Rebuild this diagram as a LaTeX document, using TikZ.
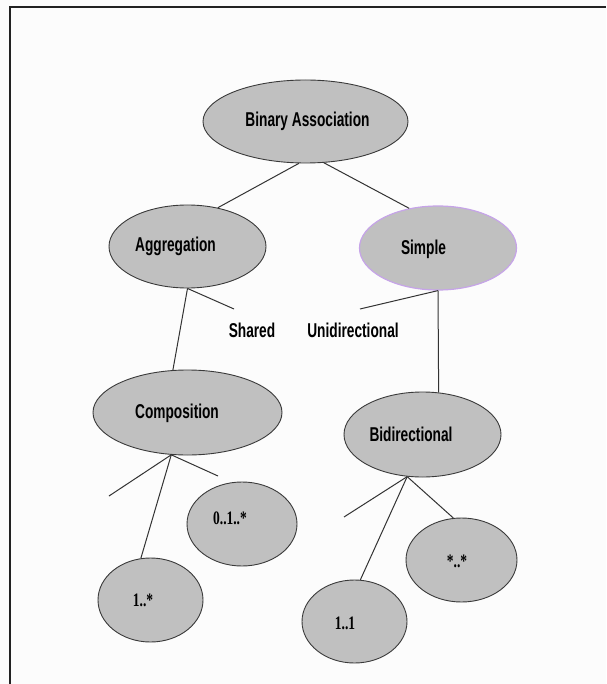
\documentclass[tikz,border=0pt]{standalone}
\usepackage{fontspec}
\usetikzlibrary{shapes.geometric}
\newfontfamily\lblfont{Liberation Sans}[FakeStretch=0.685]
\newfontfamily\numfont{Liberation Serif}[FakeStretch=0.71]
\definecolor{ellfill}{HTML}{C0C0C0}
\definecolor{ellline}{HTML}{3A3A3A}
\definecolor{linkcol}{HTML}{333333}
\definecolor{purpline}{HTML}{C6A4E8}
\definecolor{framecol}{HTML}{222222}
\tikzset{
  ell/.style={ellipse, draw=ellline, fill=ellfill, line width=0.9pt, inner sep=0pt},
  lbl/.style={font=\lblfont\bfseries\fontsize{20}{22}\selectfont, inner sep=0pt},
  numlbl/.style={font=\numfont\bfseries\fontsize{19}{21}\selectfont, inner sep=0pt},
  link/.style={draw=linkcol, line width=1pt},
}
\begin{document}
\begin{tikzpicture}[x=1pt,y=-1pt]
\useasboundingbox (0,0) rectangle (606,684);
\fill[white!99!black] (0,0) rectangle (606,684);
% frame
\draw[framecol, line width=2pt] (10,684) -- (10,7) -- (606,7);
% ellipses
\node[ell, minimum width=205pt, minimum height=83pt] (bin) at (305.5,121.5) {};
\node[ell, minimum width=157pt, minimum height=83pt] (agg) at (187.5,246.5) {};
\node[ell, draw=purpline, line width=1.2pt, minimum width=157pt, minimum height=84pt] (sim) at (438,248) {};
\node[ell, minimum width=189pt, minimum height=85pt] (comp) at (187.5,412.5) {};
\node[ell, minimum width=157pt, minimum height=85pt] (bid) at (422.5,434.5) {};
\node[ell, minimum width=110pt, minimum height=84pt] (zom) at (242,524) {};
\node[ell, minimum width=105pt, minimum height=84pt] (om) at (150.5,600) {};
\node[ell, minimum width=111pt, minimum height=84pt] (mm) at (461.5,560) {};
\node[ell, minimum width=105pt, minimum height=83pt] (oo) at (354.5,621.5) {};
% texts
\node[lbl] (bint) at (307.5,121) {Binary Association};
\node[lbl] (aggt) at (175.5,246.5) {Aggregation};
\node[lbl] (simt) at (423.5,249) {Simple};
\node[lbl] (compt) at (177,413) {Composition};
\node[lbl] (bidt) at (411,434) {Bidirectional};
\node[lbl] (shared) at (252,330) {Shared};
\node[lbl] (unidir) at (353,330) {Unidirectional};
\node[numlbl] (zomt) at (230,518) {0..1..*};
\node[numlbl] (omt) at (143,600) {1..*};
\node[numlbl] (mmt) at (457,561) {*..*};
\node[numlbl] (oot) at (345,623) {1..1};
% free ends
\coordinate (sharedend) at (234,309);
\coordinate (unidirend) at (360,309);
\coordinate (compstubL) at (109,496);
\coordinate (compstubR) at (218,476);
\coordinate (bidstub) at (344,517);
% connectors
\draw[link] (bin.261) -- (agg.52);
\draw[link] (bin.294.5) -- (sim.126);
\draw[link] (agg.south) -- (comp.109);
\draw[link] (agg.south) -- (sharedend);
\draw[link] (sim.south) -- (unidirend);
\draw[link] (sim.south) -- (bid.69.5);
\draw[link] (comp.249.5) -- (compstubL);
\draw[link] (comp.249.5) -- (compstubR);
\draw[link] (comp.249.5) -- (om.103);
\draw[link] (bid.250) -- (bidstub);
\draw[link] (bid.250) -- (mm.101.4);
\draw[link] (bid.250) -- (oo.82.5);
\end{tikzpicture}
\end{document}
